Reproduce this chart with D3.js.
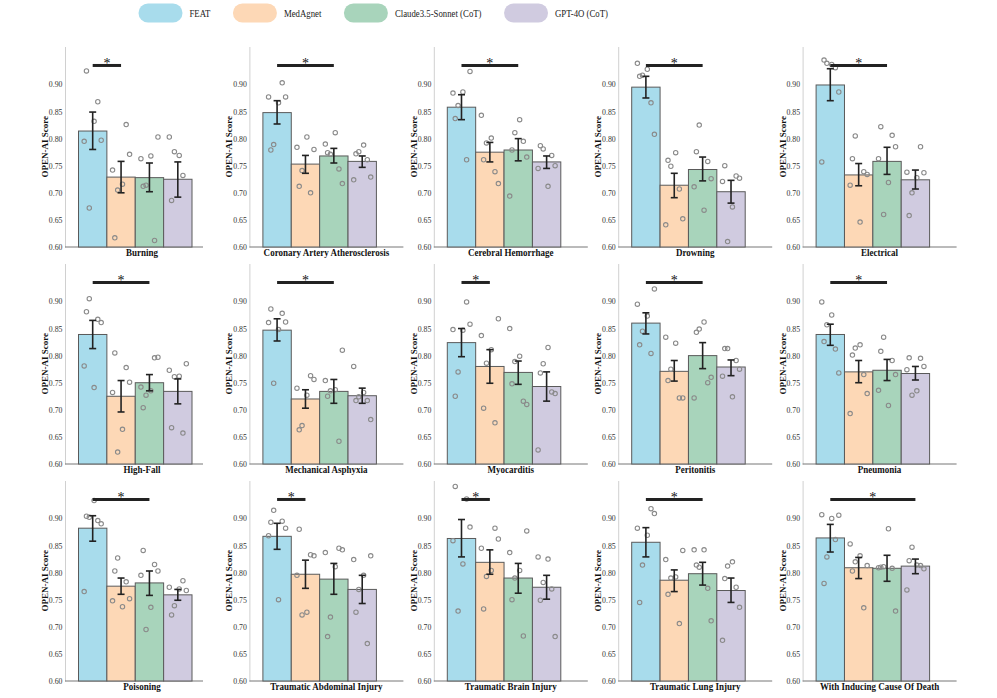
<!DOCTYPE html>
<html>
<head>
<meta charset="utf-8">
<script src="https://cdn.jsdelivr.net/npm/d3@7"></script>
<style>
  body { margin: 0; background: #fff; }
  svg text { font-family: "Liberation Serif", "Times New Roman", serif; }
</style>
</head>
<body>
<div id="chart"></div>
<script>
// categories and series
const categories = ["Burning", "Coronary Artery Atherosclerosis", "Cerebral Hemorrhage", "Drowning", "Electrical",
  "High-Fall", "Mechanical Asphyxia", "Myocarditis", "Peritonitis", "Pneumonia",
  "Poisoning", "Traumatic Abdominal Injury", "Traumatic Brain Injury", "Traumatic Lung Injury", "With Inducing Cause Of Death"];
const seriesNames = ["FEAT", "MedAgnet", "Claude3.5-Sonnet (CoT)", "GPT-4O (CoT)"];
const yTicks = [0.60, 0.65, 0.70, 0.75, 0.80, 0.85, 0.90];

// bar heights (mean score)
const featMean   = [0.814, 0.848, 0.858, 0.895, 0.899, 0.839, 0.847, 0.824, 0.860, 0.839, 0.882, 0.867, 0.863, 0.856, 0.864];
const medMean    = [0.729, 0.753, 0.775, 0.714, 0.733, 0.725, 0.720, 0.780, 0.771, 0.770, 0.775, 0.797, 0.819, 0.786, 0.809];
const claudeMean = [0.728, 0.768, 0.779, 0.743, 0.758, 0.750, 0.734, 0.769, 0.800, 0.773, 0.781, 0.788, 0.790, 0.798, 0.808];
const gptMean    = [0.725, 0.758, 0.757, 0.702, 0.724, 0.734, 0.726, 0.743, 0.779, 0.767, 0.759, 0.769, 0.773, 0.767, 0.812];

// error bar ends
const featLo   = [0.780, 0.827, 0.835, 0.875, 0.870, 0.813, 0.827, 0.798, 0.840, 0.819, 0.858, 0.843, 0.829, 0.829, 0.838];
const featHi   = [0.849, 0.870, 0.881, 0.915, 0.929, 0.865, 0.868, 0.850, 0.879, 0.858, 0.905, 0.891, 0.898, 0.883, 0.889];
const medLo    = [0.700, 0.736, 0.757, 0.691, 0.713, 0.696, 0.703, 0.749, 0.753, 0.750, 0.760, 0.771, 0.797, 0.765, 0.789];
const medHi    = [0.758, 0.769, 0.793, 0.736, 0.754, 0.754, 0.737, 0.811, 0.791, 0.791, 0.790, 0.823, 0.842, 0.805, 0.828];
const claudeLo = [0.702, 0.755, 0.759, 0.722, 0.734, 0.735, 0.712, 0.747, 0.776, 0.754, 0.758, 0.760, 0.762, 0.777, 0.784];
const claudeHi = [0.755, 0.782, 0.800, 0.766, 0.784, 0.765, 0.756, 0.790, 0.824, 0.793, 0.803, 0.817, 0.817, 0.819, 0.832];
const gptLo    = [0.692, 0.747, 0.745, 0.681, 0.707, 0.711, 0.712, 0.716, 0.763, 0.755, 0.749, 0.743, 0.751, 0.745, 0.798];
const gptHi    = [0.757, 0.768, 0.768, 0.723, 0.742, 0.757, 0.740, 0.770, 0.792, 0.780, 0.769, 0.795, 0.795, 0.790, 0.825];

// individual runs
const featPts = [
  [0.925, 0.868, 0.797, 0.795, 0.832, 0.672], [0.903, 0.877, 0.877, 0.866, 0.789, 0.779],
  [0.924, 0.884, 0.886, 0.861, 0.837, 0.761], [0.939, 0.928, 0.917, 0.915, 0.866, 0.808],
  [0.937, 0.939, 0.945, 0.931, 0.886, 0.757], [0.905, 0.881, 0.867, 0.861, 0.781, 0.741],
  [0.886, 0.878, 0.862, 0.861, 0.848, 0.749], [0.899, 0.858, 0.848, 0.847, 0.770, 0.725],
  [0.923, 0.895, 0.873, 0.845, 0.820, 0.804], [0.899, 0.875, 0.857, 0.826, 0.812, 0.768],
  [0.933, 0.902, 0.904, 0.896, 0.890, 0.765], [0.915, 0.893, 0.895, 0.882, 0.868, 0.750],
  [0.959, 0.936, 0.884, 0.859, 0.816, 0.729], [0.918, 0.909, 0.882, 0.869, 0.814, 0.745],
  [0.906, 0.907, 0.900, 0.829, 0.780, 0.861]];
const medPts = [
  [0.826, 0.771, 0.742, 0.716, 0.705, 0.617], [0.780, 0.784, 0.803, 0.741, 0.712, 0.700],
  [0.843, 0.801, 0.792, 0.761, 0.739, 0.717], [0.774, 0.749, 0.760, 0.707, 0.652, 0.641],
  [0.805, 0.763, 0.739, 0.734, 0.714, 0.646], [0.805, 0.778, 0.751, 0.732, 0.664, 0.622],
  [0.763, 0.756, 0.740, 0.727, 0.671, 0.663], [0.868, 0.837, 0.811, 0.786, 0.703, 0.676],
  [0.834, 0.823, 0.775, 0.754, 0.722, 0.722], [0.820, 0.814, 0.801, 0.765, 0.730, 0.693],
  [0.827, 0.803, 0.783, 0.752, 0.748, 0.737], [0.880, 0.833, 0.831, 0.795, 0.727, 0.722],
  [0.882, 0.862, 0.845, 0.804, 0.793, 0.733], [0.841, 0.824, 0.792, 0.790, 0.760, 0.706],
  [0.853, 0.831, 0.820, 0.803, 0.735, 0.813]];
const claudePts = [
  [0.803, 0.763, 0.768, 0.714, 0.712, 0.612], [0.790, 0.811, 0.771, 0.774, 0.744, 0.717],
  [0.835, 0.811, 0.779, 0.795, 0.766, 0.694], [0.825, 0.776, 0.758, 0.726, 0.711, 0.668],
  [0.822, 0.806, 0.785, 0.763, 0.719, 0.660], [0.796, 0.797, 0.742, 0.735, 0.727, 0.704],
  [0.810, 0.754, 0.737, 0.735, 0.725, 0.642], [0.850, 0.799, 0.789, 0.748, 0.716, 0.710],
  [0.862, 0.849, 0.843, 0.750, 0.760, 0.722], [0.834, 0.808, 0.791, 0.765, 0.736, 0.708],
  [0.841, 0.815, 0.803, 0.795, 0.736, 0.695], [0.845, 0.842, 0.837, 0.811, 0.718, 0.682],
  [0.877, 0.837, 0.804, 0.790, 0.750, 0.683], [0.842, 0.842, 0.810, 0.814, 0.771, 0.711],
  [0.881, 0.811, 0.810, 0.808, 0.729, 0.809]];
const gptPts = [
  [0.803, 0.769, 0.776, 0.686, 0.732], [0.788, 0.776, 0.772, 0.761, 0.729, 0.724],
  [0.781, 0.787, 0.769, 0.750, 0.745, 0.712], [0.750, 0.731, 0.727, 0.721, 0.674, 0.610],
  [0.785, 0.737, 0.738, 0.728, 0.700, 0.658], [0.785, 0.773, 0.762, 0.761, 0.667, 0.657],
  [0.780, 0.732, 0.724, 0.717, 0.717, 0.682], [0.815, 0.785, 0.768, 0.733, 0.730, 0.626],
  [0.813, 0.813, 0.791, 0.775, 0.762, 0.724], [0.796, 0.795, 0.780, 0.774, 0.735, 0.727],
  [0.785, 0.767, 0.773, 0.770, 0.739, 0.722], [0.831, 0.824, 0.795, 0.769, 0.727, 0.669],
  [0.829, 0.825, 0.782, 0.749, 0.770, 0.682], [0.820, 0.812, 0.789, 0.773, 0.736, 0.675],
  [0.847, 0.822, 0.813, 0.807, 0.768, 0.814]];

// significance bracket: FEAT vs series index
const sigTo = [1, 2, 2, 2, 2, 2, 2, 1, 2, 2, 2, 1, 1, 2, 3];

const means = [featMean, medMean, claudeMean, gptMean];
const los = [featLo, medLo, claudeLo, gptLo];
const his = [featHi, medHi, claudeHi, gptHi];
const pts = [featPts, medPts, claudePts, gptPts];

const colors = ["#a8dcec", "#fdd8b6", "#a8d4bb", "#d0cbe0"];
const serif = "'Liberation Serif', 'Times New Roman', serif";

// Layout
const W = 997, H = 698;
const colX = 65, colStep = 184.4;
const rowBottom = [247, 464, 681];
const plotH = 200.5, axW = 154;
const spineW = [138, 154, 154, 154, 154];

const svg = d3.select("#chart").append("svg")
    .attr("width", W).attr("height", H);

// Legend (text slightly condensed, as in the original figure)
const legend = svg.append("g");
const sx = 0.86;
let lx = 138.5;
seriesNames.forEach(function(name, i) {
    legend.append("rect")
        .attr("x", lx).attr("y", 3.5)
        .attr("width", 44).attr("height", 19)
        .attr("rx", 9.5)
        .attr("fill", colors[i]);
    const t = legend.append("text")
        .attr("transform", `translate(${lx + 51}, 16.6) scale(${sx}, 1)`)
        .attr("font-size", 10.2)
        .attr("font-family", serif)
        .attr("fill", "#222")
        .text(name);
    lx += 51 + t.node().getComputedTextLength() * sx + 22.5;
});

const jit = [-0.22, 0.18, 0.3, -0.3, 0.05, -0.12];

categories.forEach(function(cat, k) {
    const col = k % 5, row = Math.floor(k / 5);
    const x0 = colX + col * colStep;
    const yb = rowBottom[row];

    const g = svg.append("g").attr("transform", `translate(${x0}, ${yb - plotH})`);

    const y = d3.scaleLinear().domain([0.60, 0.97]).range([plotH, 0]);
    const x = d3.scaleBand().domain(d3.range(4)).range([13.5, 127]).padding(0);
    const bw = x.bandwidth();

    // Y axis
    const yAxis = g.append("g")
        .call(d3.axisLeft(y).tickValues(yTicks).tickFormat(d3.format(".2f")).tickSize(0).tickPadding(2.5));
    yAxis.attr("font-family", serif);
    yAxis.select(".domain").attr("stroke", "#d0d0d0");
    yAxis.selectAll("text").attr("font-size", 7.8).attr("fill", "#333");

    // bottom spine
    g.append("line")
        .attr("x1", 0).attr("x2", spineW[col])
        .attr("y1", plotH).attr("y2", plotH)
        .attr("stroke", "#777").attr("stroke-width", 1);

    // y label
    g.append("text")
        .attr("transform", `translate(-17, ${plotH / 2}) rotate(-90)`)
        .attr("text-anchor", "middle")
        .attr("font-size", 9).attr("font-weight", "bold")
        .attr("font-family", serif)
        .attr("fill", "#111")
        .text("OPEN-AI Score");

    // x label
    g.append("text")
        .attr("transform", `translate(${axW / 2}, ${plotH + 9.2}) scale(0.92, 1)`)
        .attr("text-anchor", "middle")
        .attr("font-size", 9.8).attr("font-weight", "bold")
        .attr("font-family", serif)
        .attr("fill", "#111")
        .text(cat);

    // Bars
    g.selectAll("rect.bar")
        .data(d3.range(4))
        .join("rect")
        .attr("class", "bar")
        .attr("x", function(s) { return x(s); })
        .attr("y", function(s) { return y(means[s][k]); })
        .attr("width", bw)
        .attr("height", function(s) { return y(0.60) - y(means[s][k]); })
        .attr("fill", function(s) { return colors[s]; })
        .attr("stroke", "#5a5a5a").attr("stroke-width", 1);

    // Points
    const clip = "clip" + k;
    g.append("clipPath").attr("id", clip).append("rect")
        .attr("x", -5).attr("y", -10).attr("width", axW + 10).attr("height", plotH + 10);
    d3.range(4).forEach(function(s) {
        g.append("g").attr("clip-path", `url(#${clip})`)
            .selectAll("circle")
            .data(pts[s][k])
            .join("circle")
            .attr("cx", function(d, i) { return x(s) + bw / 2 + jit[(i + s + k) % 6] * bw; })
            .attr("cy", function(d) { return y(d); })
            .attr("r", 2.2)
            .attr("fill", "none")
            .attr("stroke", "#8a8a8a").attr("stroke-width", 1.1);
    });

    // Error bars
    d3.range(4).forEach(function(s) {
        const cx = x(s) + bw / 2;
        const eg = g.append("g").attr("stroke", "#222").attr("stroke-width", 1.6);
        eg.append("line").attr("x1", cx).attr("x2", cx)
            .attr("y1", y(los[s][k])).attr("y2", y(his[s][k]));
        eg.append("line").attr("x1", cx - 3.5).attr("x2", cx + 3.5)
            .attr("y1", y(los[s][k])).attr("y2", y(los[s][k]));
        eg.append("line").attr("x1", cx - 3.5).attr("x2", cx + 3.5)
            .attr("y1", y(his[s][k])).attr("y2", y(his[s][k]));
    });

    // Significance
    const sx1 = x(0) + bw / 2, sx2 = x(sigTo[k]) + bw / 2;
    const sy = y(0.935);
    g.append("line")
        .attr("x1", sx1).attr("x2", sx2)
        .attr("y1", sy).attr("y2", sy)
        .attr("stroke", "#222").attr("stroke-width", 3);
    g.append("text")
        .attr("x", (sx1 + sx2) / 2).attr("y", sy + 2.5)
        .attr("text-anchor", "middle")
        .attr("font-size", 14)
        .attr("font-family", serif)
        .attr("fill", "#111")
        .text("*");
});
</script>
</body>
</html>
